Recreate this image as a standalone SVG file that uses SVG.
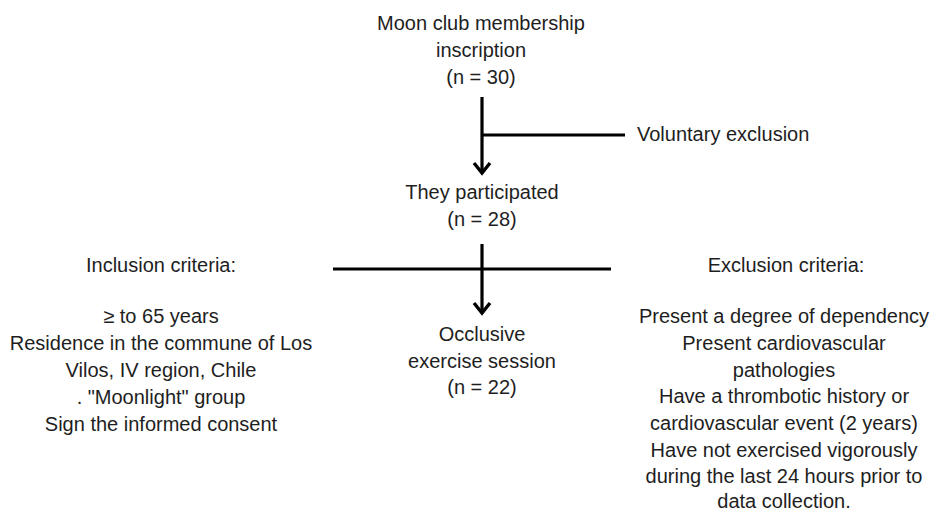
<svg xmlns="http://www.w3.org/2000/svg" width="933" height="512" viewBox="0 0 933 512">
<defs>
<style>
text{font-family:"Liberation Sans",Arial,sans-serif;font-size:20px;fill:#1e1e1e;text-anchor:middle}
.ln{stroke:#000;stroke-width:3.2;fill:none}
.ah{stroke:#000;stroke-width:3.4;fill:none;stroke-linecap:butt}
</style>
</defs>
<rect width="933" height="512" fill="#fff"/>
<g id="n-moon"><text x="481" y="30">Moon club membership</text><text x="481" y="57">inscription</text><text x="481" y="84">(n = 30)</text></g>
<g id="n-voluntary"><text x="637" y="141" style="text-anchor:start">Voluntary exclusion</text></g>
<g id="n-participated"><text x="482" y="199">They participated</text><text x="482" y="226">(n = 28)</text></g>
<g id="n-inclusion"><text x="161" y="272">Inclusion criteria:</text><text x="161" y="323">≥ to 65 years</text><text x="161" y="350">Residence in the commune of Los</text><text x="161" y="377">Vilos, IV region, Chile</text><text x="161" y="404">. "Moonlight" group</text><text x="161" y="431">Sign the informed consent</text></g>
<g id="n-occlusive"><text x="482" y="341">Occlusive</text><text x="482" y="368">exercise session</text><text x="482" y="394">(n = 22)</text></g>
<g id="n-exclusion"><text x="786" y="272">Exclusion criteria:</text><text x="784" y="323">Present a degree of dependency</text><text x="784" y="350">Present cardiovascular</text><text x="784" y="377">pathologies</text><text x="784" y="403">Have a thrombotic history or</text><text x="784" y="430">cardiovascular event (2 years)</text><text x="784" y="457">Have not exercised vigorously</text><text x="784" y="483">during the last 24 hours prior to</text><text x="784" y="508">data collection.</text></g>
<g id="connectors">
<line class="ln" x1="482" y1="97" x2="482" y2="173"/>
<line class="ln" x1="482" y1="135" x2="625" y2="135"/>
<polyline class="ah" points="474,163 482,173 490,163"/>
<line class="ln" x1="333" y1="269" x2="611" y2="269"/>
<line class="ln" x1="482" y1="244" x2="482" y2="313"/>
<polyline class="ah" points="474,303 482,313 490,303"/>
</g>
</svg>
